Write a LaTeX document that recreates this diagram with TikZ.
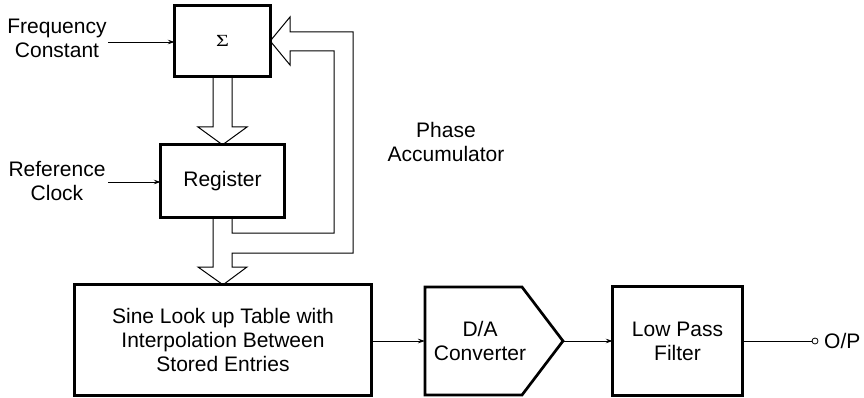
\documentclass[tikz,border=0pt]{standalone}
\usepackage{fontspec}
\setmainfont{Liberation Sans}
\newfontfamily\sigfont{Liberation Serif}
\usetikzlibrary{arrows.meta}
\begin{document}
\begin{tikzpicture}[x=1pt,y=-1pt,
  blk/.style={inner sep=0pt},
  edge/.style={line width=2.7pt,line join=miter},
  lbl/.style={align=center,font=\fontsize{21}{24}\selectfont,inner sep=0pt},
  thinline/.style={line width=0.8pt},
  sig/.style={thinline,-{Stealth[length=7pt,width=4.5pt]}},
  fat/.style={line width=1pt,line join=miter}]
\useasboundingbox (0,0) rectangle (864,398);
% blocks
\node[blk,minimum width=95pt,minimum height=70pt] (sum) at (222.5,41) {\raisebox{-2.5pt}{\scalebox{1.3}[1]{\sigfont\fontsize{17}{17}\selectfont Σ}}};
\node[blk,minimum width=123pt,minimum height=72pt,lbl] (reg) at (222.5,181) {Register};
\node[blk,minimum width=296pt,minimum height=110pt,lbl] (sine) at (223,340) {Sine Look up Table with\\Interpolation Between\\Stored Entries};
\node[blk,minimum width=129pt,minimum height=108pt,lbl] (lpf) at (677.5,341) {Low Pass\\Filter};
\foreach \n in {sum,reg,sine,lpf}
  \draw[edge] (\n.north west) -- (\n.north east) -- (\n.south east) -- (\n.south west) -- cycle;
\coordinate (daw) at (425,341);
\coordinate (dae) at (563,341);
\draw[edge] (425,287) -- (522,287) -- (dae) -- (522,395) -- (425,395) -- cycle;
\node[lbl] (da) at (480,341) {D/A\\Converter};
% labels
\node[lbl] (freq) at (57,38) {Frequency\\Constant};
\node[lbl] (ref) at (57,181) {Reference\\Clock};
\node[lbl] (phase) at (446,142) {Phase\\Accumulator};
\coordinate (fs) at (108,42);
\coordinate (rs) at (108,182);
% thin connectors
\draw[sig] (fs) -- (sum.west |- fs);
\draw[sig] (rs) -- (reg.west |- rs);
\draw[sig] (sine.east |- daw) -- (daw);
\draw[sig] (dae) -- (lpf.west |- dae);
\node[draw,circle,thinline,minimum size=6pt,inner sep=0pt] (out) at (815,341) {};
\draw[thinline] (lpf.east |- out) -- (out.west);
\node[lbl,anchor=west] (op) at (824,341) {O/P};
% hollow bus arrows
\draw[fat] (213,76) -- (213,127) -- (198,127) -- (reg.north) -- (247,127) -- (232,127) -- (232,76);
\draw[fat] (213,217) -- (213,267) -- (198,267) -- (sine.north) -- (247,267) -- (232,267)
  -- (232,253) -- (353,253) -- (353,32) -- (290,32) -- (290,17) -- (sum.east) -- (290,65)
  -- (290,51) -- (334,51) -- (334,233) -- (232,233) -- (232,217);
\end{tikzpicture}
\end{document}
